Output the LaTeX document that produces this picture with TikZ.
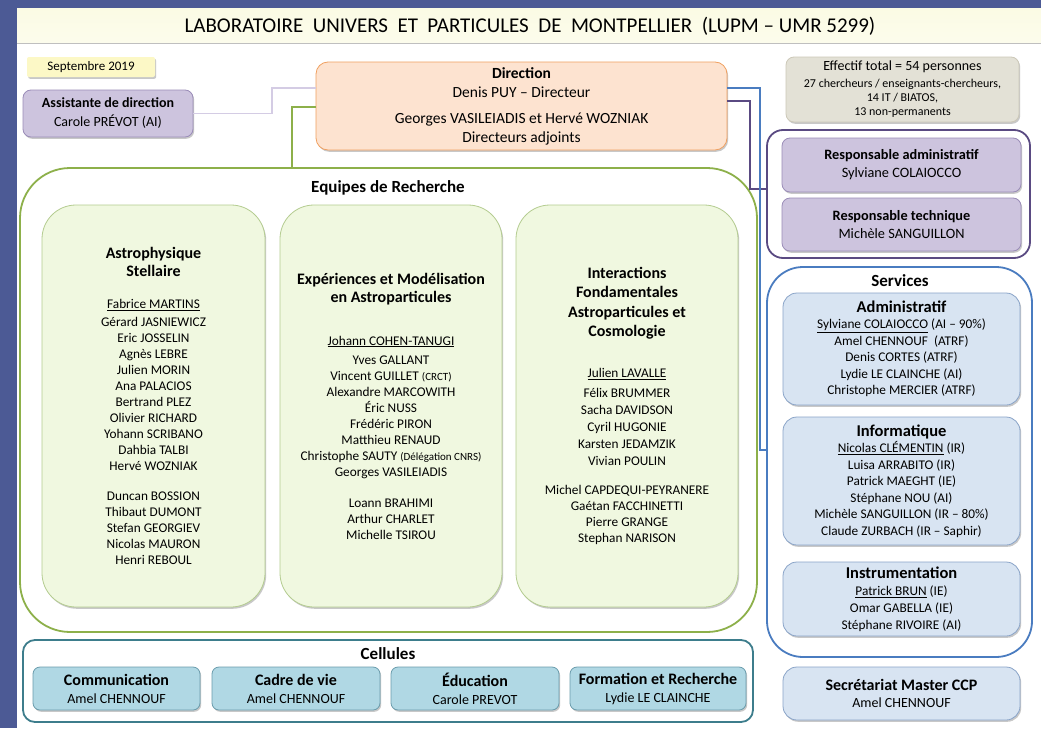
\documentclass[tikz,border=0pt]{standalone}
\usepackage{fontspec}
\setmainfont{Carlito}
\usetikzlibrary{shadows}
\definecolor{bgblue}{HTML}{4C5A95}
\definecolor{titleband}{HTML}{FBFBE4}
\definecolor{septfill}{HTML}{FCF8C6}
\definecolor{purfill}{HTML}{CDC4DE}
\definecolor{purdraw}{HTML}{9A8CB8}
\definecolor{purdark}{HTML}{5A4A82}
\definecolor{dirfill}{HTML}{FDE3D0}
\definecolor{dirdraw}{HTML}{F0A060}
\definecolor{efffill}{HTML}{E3E1D6}
\definecolor{effdraw}{HTML}{CCC8B8}
\definecolor{servdraw}{HTML}{4A7CC0}
\definecolor{servfill}{HTML}{D8E4F2}
\definecolor{servbox}{HTML}{8AA4C8}
\definecolor{eqdraw}{HTML}{8DB04A}
\definecolor{teamfill}{HTML}{F0F8E0}
\definecolor{teamdraw}{HTML}{B4CC90}
\definecolor{celldraw}{HTML}{3D7D8C}
\definecolor{cellfill}{HTML}{B0D8E4}
\definecolor{cellbox}{HTML}{6A9CAC}
\definecolor{lavline}{HTML}{D4CCE4}
\newcommand{\hd}[1]{{\fontsize{16}{16}\selectfont\bfseries #1}}
\newcommand{\hds}[1]{{\fontsize{16.5}{16}\selectfont\bfseries #1}}
\newcommand{\smalltx}[1]{{\fontsize{11}{12}\selectfont #1}}
\tikzset{
  shad/.style={drop shadow={shadow xshift=1.2pt,shadow yshift=-1.8pt,opacity=0.3,fill=black!70}},
  basebox/.style={rectangle, align=center, inner sep=0pt, line width=0.8pt, font=\fontsize{13.3}{16}\selectfont},
  purbox/.style={basebox, shad, draw=purdraw, fill=purfill, rounded corners=8pt},
  dirbox/.style={basebox, shad, draw=dirdraw, fill=dirfill, rounded corners=12pt, font=\fontsize{15.5}{19}\selectfont},
  effbox/.style={basebox, shad, draw=effdraw, fill=efffill, rounded corners=8pt},
  septbox/.style={basebox, shad, fill=septfill, rounded corners=2pt, font=\fontsize{13}{13}\selectfont},
  servbx/.style={basebox, shad, draw=servbox, fill=servfill, rounded corners=14pt, font=\fontsize{13.3}{16.5}\selectfont},
  teambox/.style={basebox, shad, draw=teamdraw, fill=teamfill, rounded corners=34pt},
  cellbx/.style={basebox, shad, draw=cellbox, fill=cellfill, rounded corners=7pt, font=\fontsize{14}{18}\selectfont},
  outerbox/.style={rectangle, inner sep=0pt, line width=1.8pt, fill=white},
  label/.style={inner sep=0pt, font=\fontsize{17}{18}\selectfont\bfseries},
  conn/.style={line width=1.8pt},
}
\begin{document}
\begin{tikzpicture}[x=1pt,y=-1pt]
\useasboundingbox (0,0) rectangle (1041,728);
\fill[bgblue] (0,0) rectangle (1041,728);
\fill[white] (17,8) rectangle (1041,728);
\shade[top color=titleband, bottom color=titleband!70!white] (17,8) rectangle (1041,43);
\draw[black!25, line width=1pt] (17,43) -- (1041,43);
\node[inner sep=0pt, font=\fontsize{21}{22}\selectfont] (title) at (530,26) {LABORATOIRE~~UNIVERS~~ET~~PARTICULES~~DE~~MONTPELLIER~~(LUPM~–~UMR~5299)};

% top row
\node[septbox, minimum width=128pt, minimum height=20pt] (sept) at (91,67) {Septembre 2019};
\node[purbox, minimum width=170pt, minimum height=47pt, font=\fontsize{14}{19}\selectfont] (assist) at (108,113.5) {\textbf{Assistante de direction}\\Carole PRÉVOT (AI)};
\node[dirbox, minimum width=411pt, minimum height=88pt] (dir) at (521.5,106) {\textbf{Direction}\\Denis PUY – Directeur\\[7pt]Georges VASILEIADIS et Hervé WOZNIAK\\Directeurs adjoints};
\node[effbox, minimum width=233pt, minimum height=65pt, font=\fontsize{12}{14}\selectfont] (eff) at (902.5,89.5) {{\fontsize{14}{14}\selectfont Effectif total = 54 personnes}\\[3pt]27 chercheurs / enseignants-chercheurs,\\14 IT / BIATOS,\\13 non-permanents};

% responsables
\node[outerbox, draw=purdark, rounded corners=16pt, minimum width=263pt, minimum height=128pt] (resp) at (898.5,194) {};
\node[purbox, minimum width=239pt, minimum height=54pt, font=\fontsize{14.3}{18}\selectfont] (radm) at (901.5,165) {\textbf{Responsable administratif}\\Sylviane COLAIOCCO};
\node[purbox, minimum width=239pt, minimum height=53pt, font=\fontsize{14.3}{18}\selectfont] (rtech) at (901.5,224.5) {\textbf{Responsable technique}\\Michèle SANGUILLON};

% services
\node[outerbox, draw=servdraw, rounded corners=36pt, minimum width=265pt, minimum height=390pt] (serv) at (899.5,462) {};
\node[label] (servlab) at (900,281) {Services};
\node[servbx, minimum width=237pt, minimum height=112pt] (sadm) at (901.5,349) {\hds{Administratif}\\\underline{Sylviane COLAIOCCO} (AI – 90\%)\\Amel CHENNOUF~~(ATRF)\\Denis CORTES (ATRF)\\Lydie LE CLAINCHE (AI)\\Christophe MERCIER (ATRF)};
\node[servbx, minimum width=237pt, minimum height=128pt] (sinf) at (901.5,481) {\hds{Informatique}\\\underline{Nicolas CLÉMENTIN} (IR)\\Luisa ARRABITO (IR)\\Patrick MAEGHT (IE)\\Stéphane NOU (AI)\\Michèle SANGUILLON (IR – 80\%)\\Claude ZURBACH (IR – Saphir)};
\node[servbx, minimum width=237pt, minimum height=74pt, font=\fontsize{13.3}{17}\selectfont] (sins) at (901.5,599) {\hds{Instrumentation}\\\underline{Patrick BRUN} (IE)\\Omar GABELLA (IE)\\Stéphane RIVOIRE (AI)};
\node[servbx, minimum width=237pt, minimum height=53pt, font=\fontsize{14}{17}\selectfont] (secr) at (901.5,693.5) {\textbf{\fontsize{16}{17}\selectfont Secrétariat Master CCP}\\Amel CHENNOUF};

% equipes
\node[outerbox, draw=eqdraw, rounded corners=50pt, minimum width=737pt, minimum height=464pt] (equipes) at (388.5,400) {};
\node[label] (eqlab) at (388,188) {Equipes de Recherche};
\node[teambox, minimum width=223pt, minimum height=402pt] (team1) at (153.5,406) {\hd{Astrophysique}\\[2pt]\hd{Stellaire}\\[16pt]\underline{Fabrice MARTINS}\\[2pt]Gérard JASNIEWICZ\\Eric JOSSELIN\\Agnès LEBRE\\Julien MORIN\\Ana PALACIOS\\Bertrand PLEZ\\Olivier RICHARD\\Yohann SCRIBANO\\Dahbia TALBI\\Hervé WOZNIAK\\[14pt]Duncan BOSSION\\Thibaut DUMONT\\Stefan GEORGIEV\\Nicolas MAURON\\Henri REBOUL};
\node[teambox, minimum width=222pt, minimum height=402pt] (team2) at (391,406) {\hd{Expériences et Modélisation}\\[2pt]\hd{en Astroparticules}\\[27pt]\underline{Johann COHEN-TANUGI}\\[3pt]Yves GALLANT\\Vincent GUILLET \smalltx{(CRCT)}\\Alexandre MARCOWITH\\Éric NUSS\\Frédéric PIRON\\Matthieu RENAUD\\Christophe SAUTY \smalltx{(Délégation CNRS)}\\Georges VASILEIADIS\\[15pt]Loann BRAHIMI\\Arthur CHARLET\\Michelle TSIROU};
\node[teambox, minimum width=222pt, minimum height=402pt] (team3) at (627,406) {\hd{Interactions}\\[3.5pt]\hd{Fondamentales}\\[3.5pt]\hd{Astroparticules et}\\[3.5pt]\hd{Cosmologie}\\[25pt]\underline{Julien LAVALLE}\\[4pt]Félix BRUMMER\\[1pt]Sacha DAVIDSON\\[1pt]Cyril HUGONIE\\[1pt]Karsten JEDAMZIK\\[1pt]Vivian POULIN\\[13pt]Michel CAPDEQUI-PEYRANERE\\Gaétan FACCHINETTI\\Pierre GRANGE\\Stephan NARISON};

% cellules
\node[outerbox, draw=celldraw, rounded corners=12pt, minimum width=730pt, minimum height=82pt] (cells) at (388,681) {};
\node[label] (celllab) at (388,654) {Cellules};
\node[cellbx, minimum width=167pt, minimum height=43pt] (comm) at (116.5,688.5) {\hd{Communication}\\Amel CHENNOUF};
\node[cellbx, minimum width=168pt, minimum height=43pt] (cadre) at (296,688.5) {\hd{Cadre de vie}\\Amel CHENNOUF};
\node[cellbx, minimum width=168pt, minimum height=43pt] (educ) at (475,688.5) {\hd{Éducation}\\Carole PREVOT};
\node[cellbx, minimum width=176pt, minimum height=43pt] (form) at (658,688.5) {\hd{Formation et Recherche}\\Lydie LE CLAINCHE};

% connectors
\coordinate (lx) at (272,0);
\coordinate (ly) at (0,88);
\coordinate (gx) at (292,0);
\coordinate (gy) at (0,107);
\coordinate (bx) at (760,0);
\coordinate (by1) at (0,88);
\coordinate (by2) at (0,450);
\coordinate (px) at (750,0);
\coordinate (py1) at (0,101);
\coordinate (py2) at (0,189);
\draw[conn, lavline] (assist.east) -| (lx |- ly) -- (dir.west |- ly);
\draw[conn, eqdraw] (dir.west |- gy) -| (equipes.north -| gx);
\draw[conn, purdark] (dir.east |- py1) -| (px |- py2) -- (resp.west |- py2);
\draw[conn, servdraw] (dir.east |- by1) -| (bx |- by2) -- (serv.west |- by2);
\end{tikzpicture}
\end{document}
